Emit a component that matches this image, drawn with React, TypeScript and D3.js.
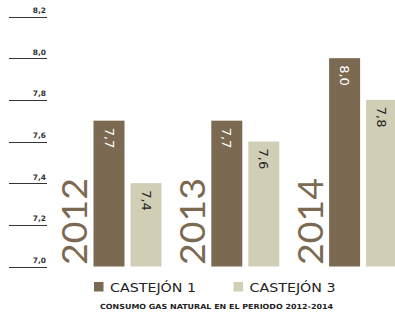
import React from 'react';
import * as d3 from 'd3';

const years = ['2012', '2013', '2014'];
const series = ['CASTEJÓN 1', 'CASTEJÓN 3'];
const castejon1 = [7.7, 7.7, 8.0];
const castejon3 = [7.4, 7.6, 7.8];
const ticks = [7.0, 7.2, 7.4, 7.6, 7.8, 8.0, 8.2];
const caption = 'CONSUMO GAS NATURAL EN EL PERIODO 2012-2014';

const colors = ['#7b6a51', '#d0ceb5'];
const fmt = (v: number) => v.toFixed(1).replace('.', ',');

const App = () => {
  const width = 395;
  const height = 312;

  const y = d3.scaleLinear().domain([7.0, 8.2]).range([266.5, 16.5]);
  const step = 117.8;
  const x0 = d3.scaleBand().domain(years).range([57.5, 57.5 + step * years.length]);
  // year label takes the first 36px of each group, the two bars follow
  const x1 = d3.scaleBand().domain(series).range([36, 36 + 68]).paddingInner(6 / 37);

  const values = [castejon1, castejon3];

  return (
    <svg
      width={width}
      height={height}
      style={{ position: 'absolute', left: 0, top: 0, fontFamily: 'DejaVu Sans' }}
    >
      {/* axis ticks */}
      {ticks.map(t => (
        <g key={t}>
          <line x1={9} x2={47} y1={Math.round(y(t)) + 0.5} y2={Math.round(y(t)) + 0.5} stroke="#333" strokeWidth={1} />
          <text x={46} y={y(t) - 3.5} textAnchor="end" fontSize={7.5} fontWeight="bold" fill="#333">
            {fmt(t)}
          </text>
        </g>
      ))}

      {years.map((yr, i) => {
        const gx = x0(yr) as number;
        return (
          <g key={yr}>
            <text
              transform={`translate(${gx + 29.5},${y(7.0) - 1.5}) rotate(-90)`}
              fontSize={35}
              textLength={87}
              lengthAdjust="spacingAndGlyphs"
              fill={colors[0]}
              fontFamily="Lato"
              fontWeight="normal"
            >
              {yr}
            </text>
            {series.map((s, j) => {
              const v = values[j][i];
              const bx = gx + (x1(s) as number);
              const bw = x1.bandwidth();
              return (
                <g key={s}>
                  <rect x={bx} y={y(v)} width={bw} height={y(7.0) - y(v)} fill={colors[j]} />
                  <text
                    transform={`translate(${bx + bw / 2},${y(v) + 7}) rotate(90)`}
                    dominantBaseline="central"
                    fontSize={13}
                    fill={j === 0 ? '#ffffff' : '#222'}
                  >
                    {fmt(v)}
                  </text>
                </g>
              );
            })}
          </g>
        );
      })}

      {/* legend */}
      {series.map((s, j) => (
        <g key={s} transform={`translate(${94 + j * 139.5},282)`}>
          <rect width={9.5} height={9.5} fill={colors[j]} />
          <text x={16} y={9.5} fontSize={12.5} textLength={86} lengthAdjust="spacingAndGlyphs" fill="#222">
            {s}
          </text>
        </g>
      ))}

      <text x={216.5} y={308.5} textAnchor="middle" fontSize={7} fontWeight="bold" fill="#222" textLength={233} lengthAdjust="spacingAndGlyphs">
        {caption}
      </text>
    </svg>
  );
};

export default App;
